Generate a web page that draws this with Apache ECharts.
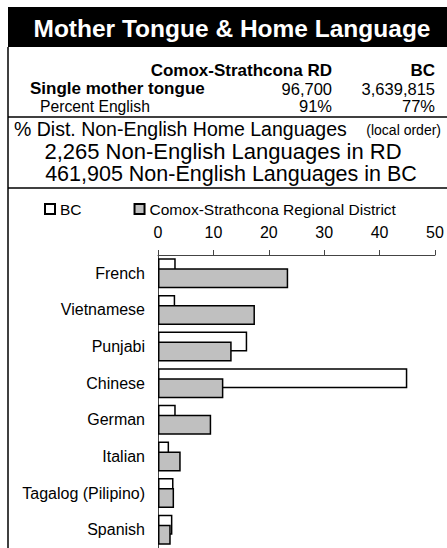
<!DOCTYPE html>
<html>
<head>
<meta charset="utf-8">
<script src="https://cdn.jsdelivr.net/npm/echarts@6/dist/echarts.min.js"></script>
<style>
html,body{margin:0;padding:0;background:#fff;}
#chart{width:447px;height:548px;}
</style>
</head>
<body>
<div id="chart"></div>
<script>
// ---- Data ----
const categories = ['French', 'Vietnamese', 'Punjabi', 'Chinese', 'German', 'Italian', 'Tagalog (Pilipino)', 'Spanish'];
const bcValues = [3.2, 3.1, 16.1, 45.0, 3.2, 2.0, 2.8, 2.6];
const rdValues = [23.5, 17.5, 13.3, 11.8, 9.6, 4.1, 2.9, 2.3];
const seriesNames = ['BC', 'Comox-Strathcona Regional District'];
const titleText = 'Mother Tongue & Home Language';
const tableHeader = ['Comox-Strathcona RD', 'BC'];
const rowSingle = ['Single mother tongue', '96,700', '3,639,815'];
const rowEnglish = ['Percent English', '91%', '77%'];
const distTitle = '% Dist. Non-English Home Languages';
const distNote = '(local order)';
const distLines = ['2,265 Non-English Languages in RD', '461,905 Non-English Languages in BC'];

const FF = '"Liberation Sans", Arial, sans-serif';

function txt(text, x, y, size, opts) {
  opts = opts || {};
  return {
    type: 'text',
    silent: true,
    style: {
      text: text, x: x, y: y,
      fill: opts.fill || '#000',
      font: (opts.bold ? 'bold ' : '') + size + 'px ' + FF,
      align: opts.align || 'left', textAlign: opts.align || 'left',
      verticalAlign: 'middle', textVerticalAlign: 'middle'
    }
  };
}
function ln(x1, y1, x2, y2, w) {
  return { type: 'line', silent: true, shape: { x1: x1, y1: y1, x2: x2, y2: y2 }, style: { stroke: '#000', lineWidth: w || 1.5 } };
}

const chart = echarts.init(document.getElementById('chart'), null, { renderer: 'svg' });
chart.setOption({
  animation: false,
  backgroundColor: '#fff',
  textStyle: { fontFamily: FF },
  graphic: [
    { type: 'rect', silent: true, shape: { x: 8, y: 7, width: 440, height: 40 }, style: { fill: '#000' } },
    txt(titleText, 232, 28, 24.5, { bold: true, fill: '#fff', align: 'center' }),
    ln(8, 47, 8, 548, 1.5),
    txt(tableHeader[0], 332, 70, 17, { bold: true, align: 'right' }),
    txt(tableHeader[1], 435, 70, 17, { bold: true, align: 'right' }),
    txt(rowSingle[0], 30, 88.5, 17, { bold: true }),
    txt(rowSingle[1], 332, 88.5, 16.5, { align: 'right' }),
    txt(rowSingle[2], 435, 88.5, 16.5, { align: 'right' }),
    txt(rowEnglish[0], 40, 106, 15.7),
    txt(rowEnglish[1], 332, 106, 16.5, { align: 'right' }),
    txt(rowEnglish[2], 435, 106, 16.5, { align: 'right' }),
    ln(8, 117, 447, 117, 1.5),
    txt(distTitle, 14, 129, 19.5),
    txt(distNote, 441, 130, 14, { align: 'right' }),
    txt(distLines[0], 223, 151.5, 22, { align: 'center' }),
    txt(distLines[1], 231, 174, 21.5, { align: 'center' }),
    ln(8, 188, 447, 188, 1.5)
  ],
  legend: {
    left: 39, top: 196,
    itemWidth: 10, itemHeight: 10, itemGap: 52,
    icon: 'rect',
    textStyle: { fontSize: 15.5, color: '#000', fontFamily: FF },
    data: seriesNames
  },
  grid: { left: 158, top: 255, width: 277, height: 293, containLabel: false },
  xAxis: {
    type: 'value', position: 'top', min: 0, max: 50, interval: 10,
    axisLine: { show: true, lineStyle: { color: '#444', width: 1 } },
    axisTick: { show: true, inside: false, length: 5, lineStyle: { color: '#444' } },
    axisLabel: { fontSize: 16, color: '#000', margin: 15, fontFamily: FF },
    splitLine: { show: false }
  },
  yAxis: {
    type: 'category', inverse: true, data: categories,
    axisLine: { show: true, lineStyle: { color: '#444', width: 1 } },
    axisTick: { show: false },
    axisLabel: { fontSize: 16, color: '#000', margin: 13, fontFamily: FF }
  },
  series: [
    {
      name: seriesNames[0], type: 'bar', data: bcValues,
      barWidth: 20, barGap: '-50%',
      itemStyle: { color: '#fff', borderColor: '#000', borderWidth: 1.5 }
    },
    {
      name: seriesNames[1], type: 'bar', data: rdValues,
      barWidth: 20, barGap: '-50%',
      itemStyle: { color: '#c0c0c0', borderColor: '#000', borderWidth: 1.5 }
    }
  ]
});
</script>
</body>
</html>
